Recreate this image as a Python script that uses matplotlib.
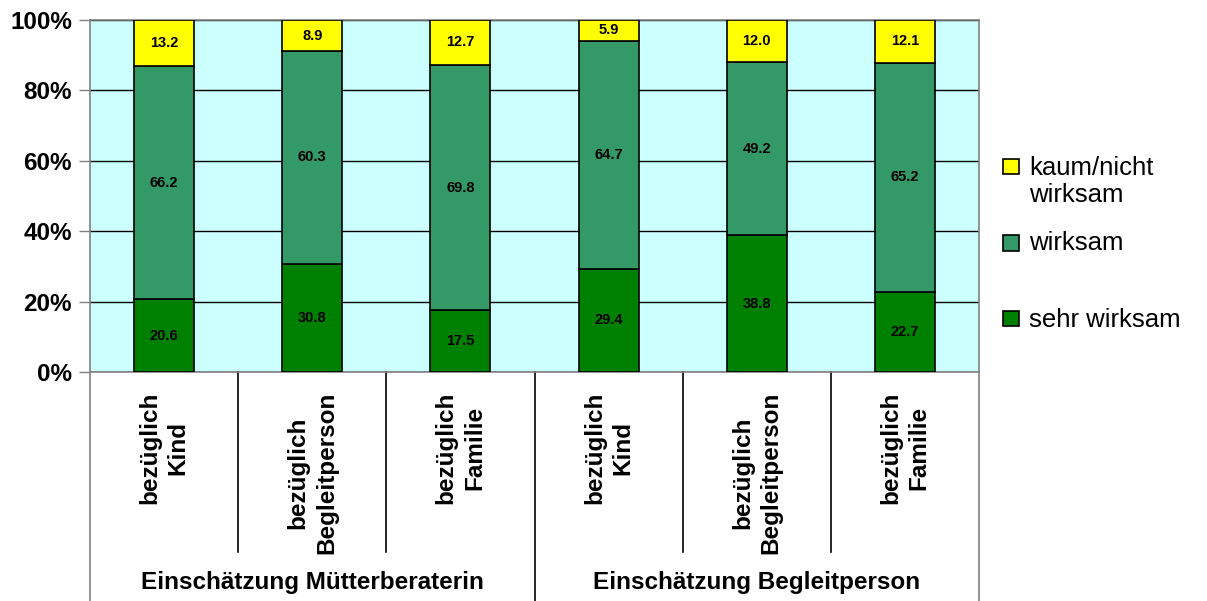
import matplotlib
matplotlib.use("Agg")
import matplotlib.pyplot as plt
from matplotlib.patches import Rectangle
from matplotlib.transforms import blended_transform_factory
import numpy as np

plt.rcParams['font.family'] = ['Liberation Sans', 'DejaVu Sans']

groups = ["Einschätzung Mütterberaterin", "Einschätzung Begleitperson"]
categories = ["bezüglich\nKind", "bezüglich\nBegleitperson", "bezüglich\nFamilie",
              "bezüglich\nKind", "bezüglich\nBegleitperson", "bezüglich\nFamilie"]
series_names = ["sehr wirksam", "wirksam", "kaum/nicht\nwirksam"]
sehr_wirksam = [20.6, 30.8, 17.5, 29.4, 38.8, 22.7]
wirksam = [66.2, 60.3, 69.8, 64.7, 49.2, 65.2]
kaum_nicht = [13.2, 8.9, 12.7, 5.9, 12.0, 12.1]
yticks = [0, 20, 40, 60, 80, 100]
ytick_labels = ["0%", "20%", "40%", "60%", "80%", "100%"]

colors = ["#008000", "#339966", "#FFFF00"]

W, H = 1207, 601
fig = plt.figure(figsize=(W / 100, H / 100), dpi=100)
fig.patch.set_facecolor("white")

L, R, T, B = 90, 979, 20, 372
ax = fig.add_axes([L / W, 1 - B / H, (R - L) / W, (B - T) / H])
ax.set_facecolor("#CCFFFF")

x = np.arange(len(categories))
bottom = np.zeros(len(categories))
for vals, col in zip([sehr_wirksam, wirksam, kaum_nicht], colors):
    vals = np.array(vals)
    ax.bar(x, vals, width=0.405, bottom=bottom, color=col, edgecolor="black",
           linewidth=1.2, zorder=3)
    for xi, b, v in zip(x, bottom, vals):
        ax.text(xi, b + v / 2, f"{v:.1f}", ha="center", va="center",
                fontsize=10.5, fontweight="bold", color="black", zorder=4)
    bottom += vals

ax.set_xlim(-0.5, len(categories) - 0.5)
ax.set_ylim(0, 100)
ax.set_yticks(yticks)
ax.set_yticklabels(ytick_labels, fontsize=17.5, fontweight="bold")
ax.yaxis.grid(True, color="black", linewidth=1, zorder=1)
ax.set_axisbelow(True)
ax.tick_params(axis="y", length=8, width=1, color="#808080", pad=5)
ax.set_xticks([])
for s in ax.spines.values():
    s.set_color("#808080")
    s.set_linewidth(1.2)

# Category labels and separators below the axis
trans = blended_transform_factory(ax.transData, ax.transAxes)
h_ax = B - T
for xi, cat in zip(x, categories):
    ax.text(xi, -(392 - B) / h_ax, cat, rotation=90, ha="center", va="top",
            multialignment="center", fontsize=17.5, fontweight="bold",
            linespacing=1.3, transform=trans)

short = -(552 - B) / h_ax
full = -(H - B) / h_ax
for bnd in np.arange(-0.5, len(categories), 1.0):
    is_group = bnd in (-0.5, 2.5, len(categories) - 0.5)
    y_end = full if is_group else short
    col = "#808080" if bnd in (-0.5, len(categories) - 0.5) else "black"
    ax.plot([bnd, bnd], [0, y_end], color=col, linewidth=1.2,
            transform=trans, clip_on=False)

for gi, g in enumerate(groups):
    ax.text(gi * 3 + 1, -(583 - B) / h_ax, g, ha="center", va="center",
            fontsize=17.5, fontweight="bold", transform=trans)

# Legend drawn in figure pixels
legend_items = [
    (series_names[2], colors[2], 166.5, 168),
    (series_names[1], colors[1], 243, 243),
    (series_names[0], colors[0], 318.5, 320),
]
sq = 15.5
for label, col, ysq, ytxt in legend_items:
    fig.patches.append(Rectangle(((1003) / W, 1 - (ysq + sq / 2) / H), sq / W, sq / H,
                                 transform=fig.transFigure, facecolor=col,
                                 edgecolor="black", linewidth=1.2))
    fig.text(1029 / W, 1 - (ytxt - 12) / H, label, ha="left", va="top",
             fontsize=18.5, linespacing=1.15)

fig.savefig("out.png", dpi=100)
